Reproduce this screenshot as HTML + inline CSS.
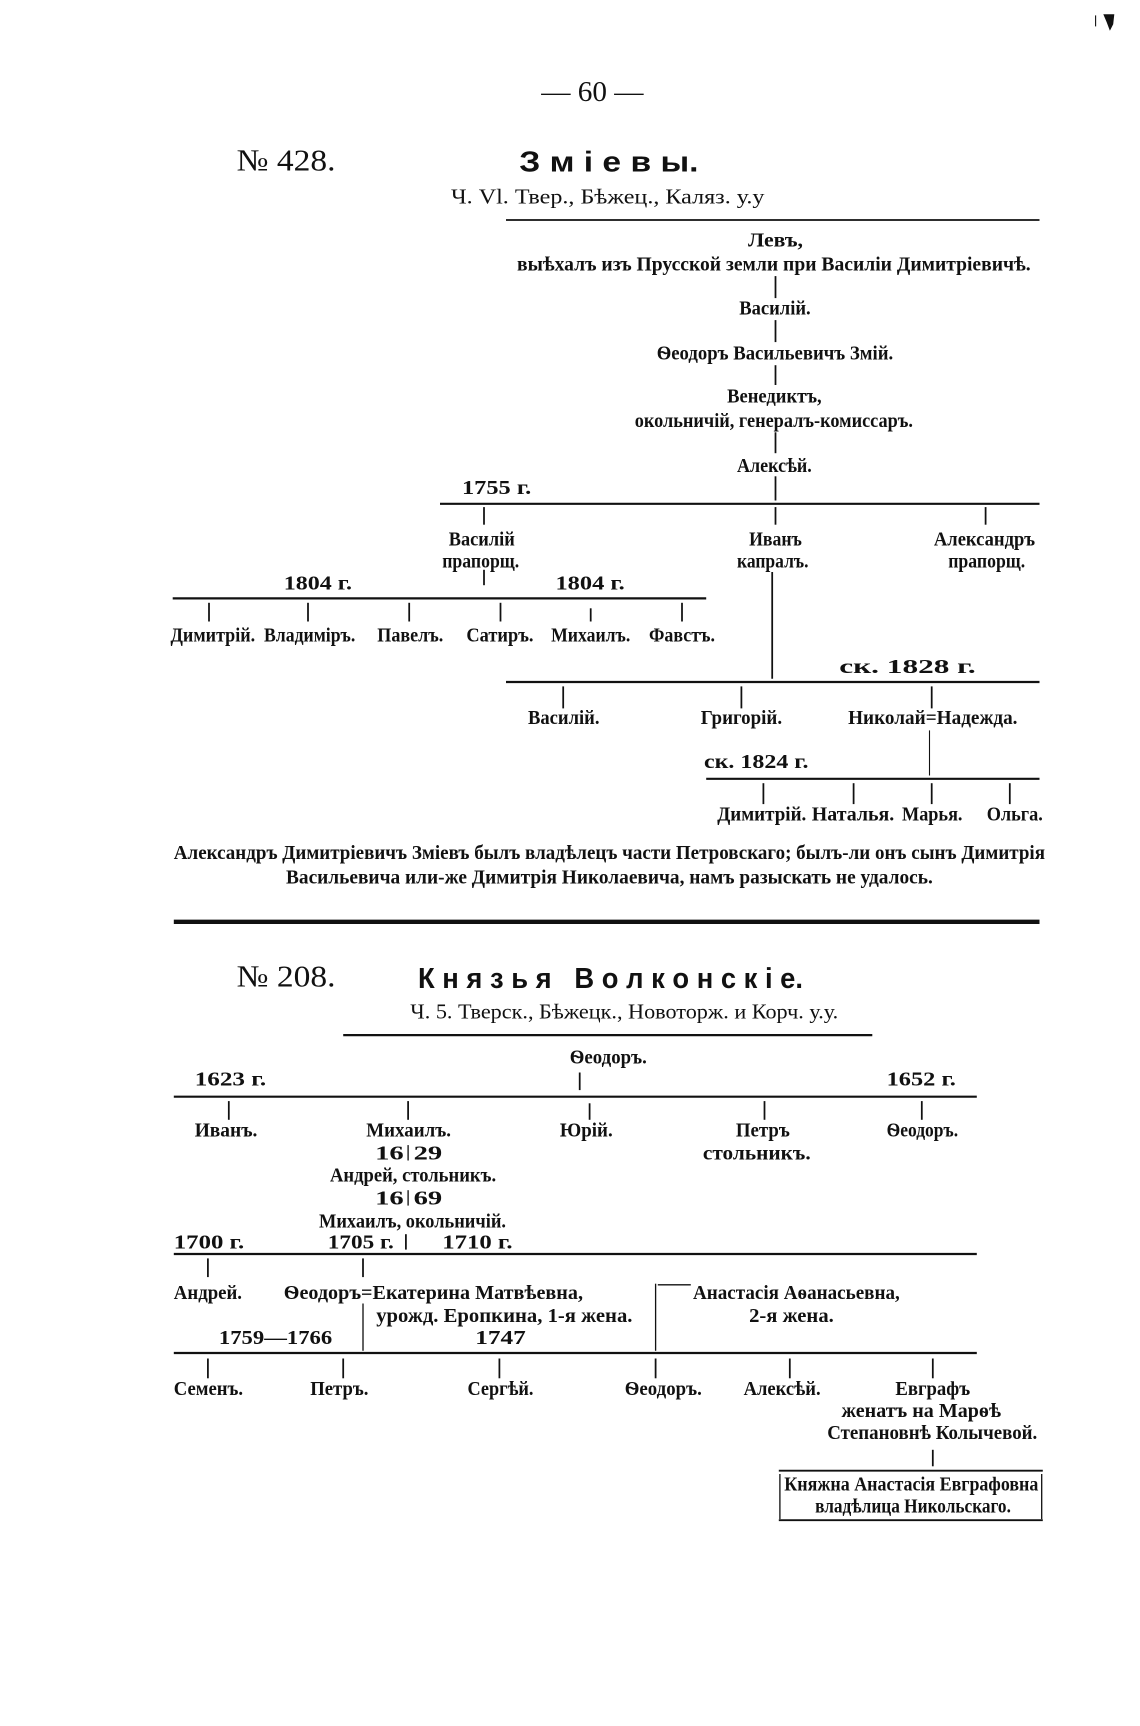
<!DOCTYPE html>
<html><head><meta charset="utf-8">
<style>
html,body{margin:0;padding:0;background:#fff;}
svg{display:block;}
text{font-family:"Liberation Serif","DejaVu Serif",serif;font-weight:bold;font-size:18px;fill:#111;}
.n{font-weight:normal;}
.h{font-family:"Liberation Sans","DejaVu Sans",sans-serif;font-weight:bold;font-size:26px;}
line{stroke:#111;stroke-width:1.6;}
.hl{stroke-width:2;}
</style></head><body>
<svg width="1140" height="1726" viewBox="0 0 1036.36 1569.1" xmlns="http://www.w3.org/2000/svg">
<path d="M1003 13 L1013 13 L1012 22 L1009 28 L1006 20 Z" fill="#111"/>
<line x1="996" y1="14" x2="996" y2="24" style="stroke-width:1"/>

<text class="n" x="492" y="92" textLength="93" lengthAdjust="spacingAndGlyphs" style="font-size:26px">— 60 —</text>
<text class="n" x="215" y="155" textLength="90" lengthAdjust="spacingAndGlyphs" style="font-size:28px">№ 428.</text>
<text class="h" x="472" y="156" textLength="163" lengthAdjust="spacingAndGlyphs">З м і е в ы.</text>
<text class="n" x="410" y="185" textLength="285" lengthAdjust="spacingAndGlyphs" style="font-size:19px">Ч. Vl. Твер., Бѣжец., Каляз. у.у</text>
<line x1="460" y1="200" x2="945" y2="200"/>
<text x="680" y="224" textLength="50" lengthAdjust="spacingAndGlyphs">Левъ,</text>
<text x="470" y="246" textLength="467" lengthAdjust="spacingAndGlyphs">выѣхалъ изъ Прусской земли при Василіи Димитріевичѣ.</text>
<line x1="705" y1="251" x2="705" y2="271"/>
<text x="672" y="286" textLength="65" lengthAdjust="spacingAndGlyphs">Василій.</text>
<line x1="705" y1="291" x2="705" y2="311"/>
<text x="597" y="327" textLength="215" lengthAdjust="spacingAndGlyphs">Ѳеодоръ Васильевичъ Змій.</text>
<line x1="705" y1="332" x2="705" y2="350"/>
<text x="661" y="366" textLength="86" lengthAdjust="spacingAndGlyphs">Венедиктъ,</text>
<text x="577" y="388" textLength="253" lengthAdjust="spacingAndGlyphs">окольничій, генералъ-комиссаръ.</text>
<line x1="705" y1="393" x2="705" y2="412"/>
<text x="670" y="429" textLength="68" lengthAdjust="spacingAndGlyphs">Алексѣй.</text>
<line x1="705" y1="433" x2="705" y2="455"/>
<text x="420" y="449" textLength="63" lengthAdjust="spacingAndGlyphs">1755 г.</text>
<line class="hl" x1="400" y1="458" x2="945" y2="458"/>
<line x1="440" y1="461" x2="440" y2="477"/>
<line x1="705" y1="461" x2="705" y2="477"/>
<line x1="896" y1="461" x2="896" y2="477"/>
<text x="408" y="496" textLength="60" lengthAdjust="spacingAndGlyphs">Василій</text>
<text x="402" y="516" textLength="70" lengthAdjust="spacingAndGlyphs">прапорщ.</text>
<text x="681" y="496" textLength="48" lengthAdjust="spacingAndGlyphs">Иванъ</text>
<text x="670" y="516" textLength="65" lengthAdjust="spacingAndGlyphs">капралъ.</text>
<text x="849" y="496" textLength="92" lengthAdjust="spacingAndGlyphs">Александръ</text>
<text x="862" y="516" textLength="70" lengthAdjust="spacingAndGlyphs">прапорщ.</text>
<line x1="440" y1="518" x2="440" y2="532"/>
<text x="258" y="536" textLength="62" lengthAdjust="spacingAndGlyphs">1804 г.</text>
<text x="505" y="536" textLength="63" lengthAdjust="spacingAndGlyphs">1804 г.</text>
<line class="hl" x1="157" y1="544" x2="642" y2="544"/>
<line x1="190" y1="548" x2="190" y2="565"/>
<line x1="280" y1="548" x2="280" y2="565"/>
<line x1="372" y1="548" x2="372" y2="565"/>
<line x1="455" y1="548" x2="455" y2="565"/>
<line x1="537" y1="553" x2="537" y2="565"/>
<line x1="620" y1="548" x2="620" y2="565"/>
<text x="155" y="583" textLength="77" lengthAdjust="spacingAndGlyphs">Димитрій.</text>
<text x="240" y="583" textLength="83" lengthAdjust="spacingAndGlyphs">Владиміръ.</text>
<text x="343" y="583" textLength="60" lengthAdjust="spacingAndGlyphs">Павелъ.</text>
<text x="424" y="583" textLength="61" lengthAdjust="spacingAndGlyphs">Сатиръ.</text>
<text x="501" y="583" textLength="72" lengthAdjust="spacingAndGlyphs">Михаилъ.</text>
<text x="590" y="583" textLength="60" lengthAdjust="spacingAndGlyphs">Фавстъ.</text>
<line x1="702" y1="520" x2="702" y2="617"/>
<text x="763" y="612" textLength="124" lengthAdjust="spacingAndGlyphs">ск. 1828 г.</text>
<line class="hl" x1="460" y1="620" x2="945" y2="620"/>
<line x1="512" y1="624" x2="512" y2="644"/>
<line x1="674" y1="624" x2="674" y2="644"/>
<line x1="847" y1="624" x2="847" y2="644"/>
<text x="480" y="658" textLength="65" lengthAdjust="spacingAndGlyphs">Василій.</text>
<text x="637" y="658" textLength="74" lengthAdjust="spacingAndGlyphs">Григорій.</text>
<text x="771" y="658" textLength="154" lengthAdjust="spacingAndGlyphs">Николай=Надежда.</text>
<line x1="845" y1="664" x2="845" y2="705" style="stroke-width:1"/>
<text x="640" y="698" textLength="95" lengthAdjust="spacingAndGlyphs">ск. 1824 г.</text>
<line class="hl" x1="642" y1="708" x2="945" y2="708"/>
<line x1="694" y1="712" x2="694" y2="731"/>
<line x1="776" y1="712" x2="776" y2="731"/>
<line x1="847" y1="712" x2="847" y2="731"/>
<line x1="918" y1="712" x2="918" y2="731"/>
<text x="652" y="746" textLength="81" lengthAdjust="spacingAndGlyphs">Димитрій.</text>
<text x="738" y="746" textLength="75" lengthAdjust="spacingAndGlyphs">Наталья.</text>
<text x="820" y="746" textLength="55" lengthAdjust="spacingAndGlyphs">Марья.</text>
<text x="897" y="746" textLength="51" lengthAdjust="spacingAndGlyphs">Ольга.</text>
<text x="158" y="781" textLength="792" lengthAdjust="spacingAndGlyphs">Александръ Димитріевичъ Змiевъ былъ владѣлецъ части Петровскаго; былъ-ли онъ сынъ Димитрія</text>
<text x="260" y="803" textLength="588" lengthAdjust="spacingAndGlyphs">Васильевича или-же Димитрія Николаевича, намъ разыскать не удалось.</text>
<line x1="158" y1="838" x2="945" y2="838" style="stroke-width:4"/>

<text class="n" x="215" y="897" textLength="90" lengthAdjust="spacingAndGlyphs" style="font-size:28px">№ 208.</text>
<text class="h" x="380" y="898" textLength="350" lengthAdjust="spacingAndGlyphs">К н я з ь я&#160;&#160;&#160;В о л к о н с к і е.</text>
<text class="n" x="373" y="926" textLength="389" lengthAdjust="spacingAndGlyphs" style="font-size:19px">Ч. 5. Тверск., Бѣжецк., Новоторж. и Корч. у.у.</text>
<line class="hl" x1="312" y1="941" x2="793" y2="941"/>
<text x="518" y="967" textLength="70" lengthAdjust="spacingAndGlyphs">Ѳеодоръ.</text>
<text x="177" y="987" textLength="65" lengthAdjust="spacingAndGlyphs">1623 г.</text>
<text x="806" y="987" textLength="63" lengthAdjust="spacingAndGlyphs">1652 г.</text>
<line x1="527" y1="975" x2="527" y2="991"/>
<line class="hl" x1="158" y1="997" x2="888" y2="997"/>
<line x1="208" y1="1001" x2="208" y2="1018"/>
<line x1="371" y1="1001" x2="371" y2="1018"/>
<line x1="536" y1="1003" x2="536" y2="1018"/>
<line x1="695" y1="1001" x2="695" y2="1018"/>
<line x1="838" y1="1001" x2="838" y2="1018"/>
<text x="177" y="1033" textLength="57" lengthAdjust="spacingAndGlyphs">Иванъ.</text>
<text x="333" y="1033" textLength="77" lengthAdjust="spacingAndGlyphs">Михаилъ.</text>
<text x="509" y="1033" textLength="48" lengthAdjust="spacingAndGlyphs">Юрій.</text>
<text x="669" y="1033" textLength="49" lengthAdjust="spacingAndGlyphs">Петръ</text>
<text x="806" y="1033" textLength="65" lengthAdjust="spacingAndGlyphs">Ѳеодоръ.</text>
<text x="341" y="1054" textLength="26" lengthAdjust="spacingAndGlyphs">16</text>
<line x1="371" y1="1041" x2="371" y2="1055" style="stroke-width:1.2"/>
<text x="376" y="1054" textLength="26" lengthAdjust="spacingAndGlyphs">29</text>
<text x="639" y="1054" textLength="98" lengthAdjust="spacingAndGlyphs">стольникъ.</text>
<text x="300" y="1074" textLength="151" lengthAdjust="spacingAndGlyphs">Андрей, стольникъ.</text>
<text x="341" y="1095" textLength="26" lengthAdjust="spacingAndGlyphs">16</text>
<line x1="371" y1="1082" x2="371" y2="1096" style="stroke-width:1.2"/>
<text x="376" y="1095" textLength="26" lengthAdjust="spacingAndGlyphs">69</text>
<text x="290" y="1116" textLength="170" lengthAdjust="spacingAndGlyphs">Михаилъ, окольничій.</text>
<text x="158" y="1135" textLength="64" lengthAdjust="spacingAndGlyphs">1700 г.</text>
<text x="298" y="1135" textLength="60" lengthAdjust="spacingAndGlyphs">1705 г.</text>
<line x1="369" y1="1122" x2="369" y2="1136"/>
<text x="402" y="1135" textLength="64" lengthAdjust="spacingAndGlyphs">1710 г.</text>
<line class="hl" x1="158" y1="1140" x2="888" y2="1140"/>
<line x1="189" y1="1144" x2="189" y2="1161"/>
<line x1="330" y1="1144" x2="330" y2="1161"/>
<text x="158" y="1181" textLength="62" lengthAdjust="spacingAndGlyphs">Андрей.</text>
<text x="258" y="1181" textLength="272" lengthAdjust="spacingAndGlyphs">Ѳеодоръ=Екатерина Матвѣевна,</text>
<text x="342" y="1202" textLength="233" lengthAdjust="spacingAndGlyphs">урожд. Еропкина, 1-я жена.</text>
<text x="199" y="1222" textLength="103" lengthAdjust="spacingAndGlyphs">1759—1766</text>
<text x="432" y="1222" textLength="46" lengthAdjust="spacingAndGlyphs">1747</text>
<line x1="330" y1="1185" x2="330" y2="1228" style="stroke-width:1.2"/>
<line x1="596" y1="1167" x2="596" y2="1228" style="stroke-width:1.2"/>
<line x1="598" y1="1168" x2="628" y2="1168" style="stroke-width:1.2"/>
<text x="630" y="1181" textLength="188" lengthAdjust="spacingAndGlyphs">Анастасія Аѳанасьевна,</text>
<text x="681" y="1202" textLength="77" lengthAdjust="spacingAndGlyphs">2-я жена.</text>
<line class="hl" x1="158" y1="1230" x2="888" y2="1230"/>
<line x1="189" y1="1235" x2="189" y2="1253"/>
<line x1="312" y1="1235" x2="312" y2="1253"/>
<line x1="454" y1="1235" x2="454" y2="1253"/>
<line x1="596" y1="1235" x2="596" y2="1253"/>
<line x1="718" y1="1235" x2="718" y2="1253"/>
<line x1="848" y1="1235" x2="848" y2="1253"/>
<text x="158" y="1268" textLength="63" lengthAdjust="spacingAndGlyphs">Семенъ.</text>
<text x="282" y="1268" textLength="53" lengthAdjust="spacingAndGlyphs">Петръ.</text>
<text x="425" y="1268" textLength="60" lengthAdjust="spacingAndGlyphs">Сергѣй.</text>
<text x="568" y="1268" textLength="70" lengthAdjust="spacingAndGlyphs">Ѳеодоръ.</text>
<text x="676" y="1268" textLength="70" lengthAdjust="spacingAndGlyphs">Алексѣй.</text>
<text x="814" y="1268" textLength="68" lengthAdjust="spacingAndGlyphs">Евграфъ</text>
<text x="765" y="1288" textLength="145" lengthAdjust="spacingAndGlyphs">женатъ на Марѳѣ</text>
<text x="752" y="1308" textLength="191" lengthAdjust="spacingAndGlyphs">Степановнѣ Колычевой.</text>
<line x1="848" y1="1318" x2="848" y2="1333"/>
<line x1="708" y1="1337" x2="948" y2="1337"/>
<line x1="708" y1="1382" x2="948" y2="1382"/>
<line x1="709" y1="1340" x2="709" y2="1381" style="stroke-width:1.2"/>
<line x1="947" y1="1340" x2="947" y2="1381" style="stroke-width:1.2"/>
<text x="713" y="1355" textLength="231" lengthAdjust="spacingAndGlyphs">Княжна Анастасія Евграфовна</text>
<text x="741" y="1375" textLength="178" lengthAdjust="spacingAndGlyphs">владѣлица Никольскаго.</text>
</svg>
</body></html>
